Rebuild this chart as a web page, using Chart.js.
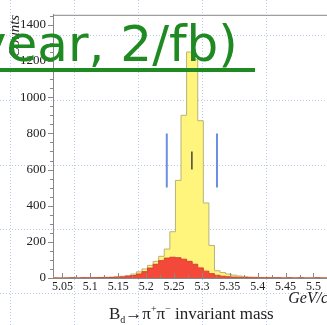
<!DOCTYPE html>
<html>
<head>
<meta charset="utf-8">
<script src="https://cdn.jsdelivr.net/npm/chart.js@4.4.1/dist/chart.umd.min.js"></script>
<style>
  html, body { margin: 0; padding: 0; overflow: hidden; background: #fff; width: 327px; height: 325px; }
  #wrap { position: absolute; left: 0; top: 0; width: 338px; height: 325px; }
  #headline {
    position: absolute; left: -23px; top: 19px; white-space: nowrap;
    font-family: "DejaVu Sans", sans-serif; font-size: 50px; line-height: 50px; color: #1f8a22;
  }
  #uline { position: absolute; left: 0; top: 68px; width: 255px; height: 4px; background: #1f8a22; }
  #xname {
    position: absolute; left: 109px; top: 303px; white-space: nowrap;
    font-family: "Liberation Serif", serif; font-size: 17px; color: #222;
  }
  #xname sub, #xname sup { font-size: 10px; }
</style>
</head>
<body>
<div id="wrap"><canvas id="myChart" width="338" height="325"></canvas></div>
<div id="xname">B<sub>d</sub>→π<sup>+</sup>π<sup>−</sup> invariant mass</div>
<div id="headline">year, 2/fb)</div>
<div id="uline"></div>
<script>
// histogram binning (GeV/c^2)
const binStart = 5.0325;
const binWidth = 0.01;

// all candidates (yellow)
const allCounts = [1, 0, 1, 1, 1, 2, 1, 2, 3, 4, 5, 7, 10, 14, 22, 34, 50, 70, 92, 120,
  160, 256, 540, 900, 1250, 1210, 870, 415, 180, 40, 30, 22, 16, 11, 7, 5, 4, 3, 3, 2,
  2, 1, 2, 1, 2, 1, 1, 2, 1, 1, 1];

// background (red)
const bkgCounts = [0, 0, 0, 1, 0, 1, 1, 1, 2, 2, 3, 4, 6, 9, 14, 22, 35, 55, 76, 96,
  110, 115, 112, 104, 92, 76, 56, 38, 24, 15, 10, 7, 5, 4, 3, 2, 2, 1, 1, 1,
  1, 0, 1, 0, 1, 0, 0, 1, 0, 0, 0];

// mass window markers
const windowLo = 5.237;
const windowHi = 5.327;
const windowY = [500, 800];
const peakMark = 5.282;
const peakY = [600, 700];

// axis ticks
const xTicks = [5.05, 5.1, 5.15, 5.2, 5.25, 5.3, 5.35, 5.4, 5.45, 5.5];
const xTickLabels = ['5.05', '5.1', '5.15', '5.2', '5.25', '5.3', '5.35', '5.4', '5.45', '5.5'];
const yTicks = [0, 200, 400, 600, 800, 1000, 1200, 1400];

function histPoints(counts) {
  const pts = counts.map((c, i) => ({ x: binStart + i * binWidth, y: c }));
  pts.push({ x: binStart + counts.length * binWidth, y: 0 });
  return pts;
}

const axisColor = '#888';

// dotted slide grid behind the plot + frame and tick marks
const decor = {
  id: 'decor',
  beforeDraw(chart) {
    const c = chart.ctx;
    c.save();
    c.strokeStyle = '#bccbf0';
    c.lineWidth = 1;
    c.setLineDash([1, 2]);
    [10, 74, 138, 202, 266, 330].forEach(x => {
      c.beginPath(); c.moveTo(x + 0.5, 0); c.lineTo(x + 0.5, chart.height); c.stroke();
    });
    [35, 100, 165, 229, 293].forEach(y => {
      c.beginPath(); c.moveTo(0, y + 0.5); c.lineTo(chart.width, y + 0.5); c.stroke();
    });
    c.restore();
  },
  afterDraw(chart) {
    const c = chart.ctx;
    const a = chart.chartArea;
    const xs = chart.scales.x, ys = chart.scales.y;
    c.save();
    c.strokeStyle = axisColor;
    c.lineWidth = 1;
    c.beginPath(); c.moveTo(a.left, a.top + 0.5); c.lineTo(a.right, a.top + 0.5); c.stroke();
    // y ticks, outward
    for (let v = 0; v <= 1450; v += 50) {
      const y = Math.round(ys.getPixelForValue(v)) + 0.5;
      const len = v % 200 === 0 ? 5 : 3;
      c.beginPath(); c.moveTo(a.left - len, y); c.lineTo(a.left, y); c.stroke();
    }
    // x ticks, inward
    xTicks.forEach(v => {
      const x = Math.round(xs.getPixelForValue(v)) + 0.5;
      c.beginPath(); c.moveTo(x, a.bottom); c.lineTo(x, a.bottom - 5); c.stroke();
      const xm = Math.round(xs.getPixelForValue(v + 0.025)) + 0.5;
      c.beginPath(); c.moveTo(xm, a.bottom); c.lineTo(xm, a.bottom - 3); c.stroke();
    });
    c.restore();
  }
};

const ctx = document.getElementById('myChart');

const chart = new Chart(ctx, {
  type: 'line',
  data: {
    datasets: [
      {
        label: 'window low', data: windowY.map(y => ({ x: windowLo, y })),
        borderColor: '#6b8fe0', borderWidth: 2, pointRadius: 0, order: 0
      },
      {
        label: 'window high', data: windowY.map(y => ({ x: windowHi, y })),
        borderColor: '#6b8fe0', borderWidth: 2, pointRadius: 0, order: 0
      },
      {
        label: 'peak', data: peakY.map(y => ({ x: peakMark, y })),
        borderColor: '#444', borderWidth: 1.5, pointRadius: 0, order: 0
      },
      {
        label: 'background', data: histPoints(bkgCounts),
        stepped: true, fill: 'origin', pointRadius: 0, borderWidth: 1,
        borderColor: '#d8402e', backgroundColor: '#f2493a', order: 1
      },
      {
        label: 'all', data: histPoints(allCounts),
        stepped: true, fill: 'origin', pointRadius: 0, borderWidth: 1,
        borderColor: '#b9b27a', backgroundColor: '#fff57c', order: 2
      }
    ]
  },
  options: {
    responsive: false,
    animation: false,
    devicePixelRatio: 1,
    layout: { padding: { top: 5, left: 0, right: 5, bottom: 0 } },
    plugins: { legend: { display: false }, tooltip: { enabled: false } },
    scales: {
      x: {
        type: 'linear', min: 5.033, max: 5.535,
        grid: { display: false, drawTicks: false },
        border: { display: true, color: axisColor, width: 1 },
        afterBuildTicks: s => { s.ticks = xTicks.map(v => ({ value: v })); },
        afterFit: s => { s.height = 47; },
        ticks: {
          autoSkip: false, maxRotation: 0, padding: 2, color: '#222',
          font: { family: 'Liberation Serif', size: 12 },
          callback: (v, i) => xTickLabels[i]
        },
        title: {
          display: true, text: 'GeV/c²', align: 'end', color: '#222',
          font: { family: 'Liberation Serif', size: 16, style: 'italic' },
          padding: { top: 0, bottom: 17 }
        }
      },
      y: {
        min: 0, max: 1456,
        grid: { display: false, drawTicks: false },
        border: { display: true, color: axisColor, width: 1 },
        afterBuildTicks: s => { s.ticks = yTicks.map(v => ({ value: v })); },
        afterFit: s => { s.width = 53; },
        ticks: {
          padding: 7, color: '#222',
          font: { family: 'Liberation Serif', size: 13 },
          callback: v => String(v)
        },
        title: {
          display: true, text: 'Counts', align: 'end', color: '#222',
          font: { family: 'Liberation Serif', size: 15, style: 'italic' },
          padding: { top: 6, bottom: 0 }
        }
      }
    }
  },
  plugins: [decor]
});
</script>
</body>
</html>
